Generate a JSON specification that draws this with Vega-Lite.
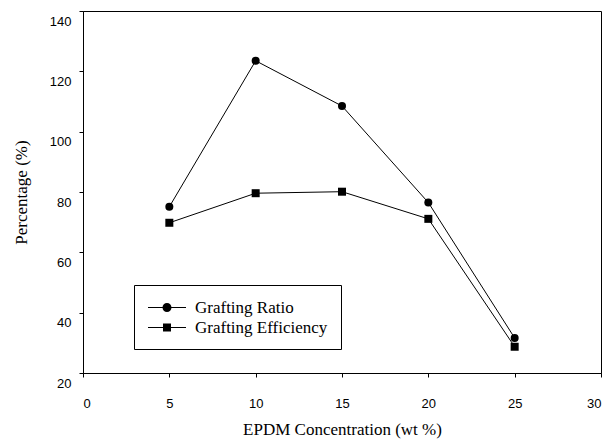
{
  "$schema": "https://vega.github.io/schema/vega-lite/v6.json",
  "width": 518,
  "height": 362,
  "autosize": {"type": "none"},
  "padding": {"left": 83, "top": 11, "right": 11, "bottom": 69},
  "background": "white",
  "data": {
    "values": [
      {"x": 5, "y": 75.1, "series": "Grafting Ratio"},
      {"x": 10, "y": 123.5, "series": "Grafting Ratio"},
      {"x": 15, "y": 108.5, "series": "Grafting Ratio"},
      {"x": 20, "y": 76.5, "series": "Grafting Ratio"},
      {"x": 25, "y": 31.6, "series": "Grafting Ratio"},
      {"x": 5, "y": 69.8, "series": "Grafting Efficiency"},
      {"x": 10, "y": 79.6, "series": "Grafting Efficiency"},
      {"x": 15, "y": 80.1, "series": "Grafting Efficiency"},
      {"x": 20, "y": 71.1, "series": "Grafting Efficiency"},
      {"x": 25, "y": 28.7, "series": "Grafting Efficiency"}
    ]
  },
  "encoding": {
    "x": {
      "field": "x", "type": "quantitative",
      "scale": {"domain": [0, 30], "nice": false, "zero": false},
      "axis": {"title": "EPDM Concentration (wt %)", "values": [0, 5, 10, 15, 20, 25, 30]}
    },
    "y": {
      "field": "y", "type": "quantitative",
      "scale": {"domain": [20, 140], "nice": false, "zero": false},
      "axis": {"title": "Percentage (%)", "values": [20, 40, 60, 80, 100, 120, 140], "labelOffset": 10}
    }
  },
  "layer": [
    {
      "mark": {"type": "line", "color": "black", "strokeWidth": 1},
      "encoding": {"detail": {"field": "series"}}
    },
    {
      "mark": {"type": "point", "filled": true, "color": "black", "size": 64, "opacity": 1},
      "encoding": {
        "shape": {
          "field": "series", "type": "nominal",
          "scale": {"domain": ["Grafting Ratio", "Grafting Efficiency"], "range": ["circle", "square"]},
          "legend": null
        }
      }
    },
    {
      "mark": {"type": "point", "filled": true, "color": "black", "size": 289, "opacity": 0},
      "encoding": {
        "shape": {
          "field": "series", "type": "nominal",
          "scale": {
            "domain": ["Grafting Ratio", "Grafting Efficiency"],
            "range": [
              "M-1,-0.06H3.47V0.06H-1ZM1.765,0A0.53,0.53,0,1,1,0.705,0A0.53,0.53,0,1,1,1.765,0Z",
              "M-1,-0.06H3.47V0.06H-1ZM0.765,-0.47H1.705V0.47H0.765Z"
            ]
          },
          "legend": {
            "title": null,
            "orient": "none",
            "legendX": 51,
            "legendY": 274,
            "padding": 13,
            "strokeColor": "black",
            "fillColor": "white",
            "symbolSize": 289,
            "symbolOpacity": 1,
            "symbolFillColor": "black",
            "labelFont": "Liberation Serif",
            "labelFontSize": 17,
            "labelColor": "black",
            "labelOffset": 29,
            "rowPadding": 2
          }
        }
      }
    }
  ],
  "resolve": {"scale": {"shape": "independent"}, "legend": {"shape": "independent"}},
  "config": {
    "view": {"stroke": "black", "strokeWidth": 1},
    "axis": {
      "grid": false,
      "domainColor": "black",
      "tickColor": "black",
      "tickSize": 4,
      "labelFont": "Liberation Sans",
      "labelFontSize": 13,
      "labelColor": "black",
      "titleFont": "Liberation Serif",
      "titleFontSize": 17,
      "titleFontWeight": "normal",
      "titleColor": "black"
    },
    "axisX": {"labelPadding": 20, "titlePadding": 11},
    "axisY": {"labelPadding": 8, "titlePadding": 19}
  }
}
